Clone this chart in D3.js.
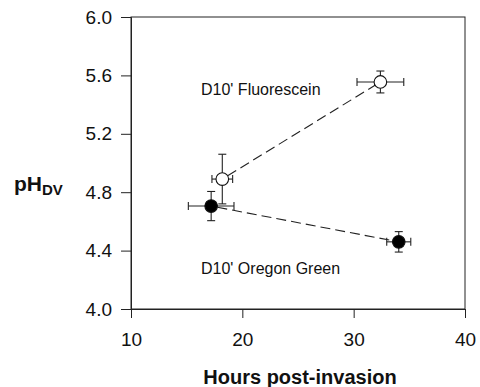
<html>
  <style type="text/css">
    body { margin: 0; background: #fff; }
    text { font-family: "Liberation Sans", Arial, sans-serif; }
  </style>
  <body>
    <script src="https://cdn.jsdelivr.net/npm/d3@7"></script>
    <script type="text/javascript">
      // values
      const xTicks = [10, 20, 30, 40];
      const yTicks = [4.0, 4.4, 4.8, 5.2, 5.6, 6.0];

      const fluoHours = [18.2, 32.4];
      const fluoPH = [4.89, 5.555];
      const fluoXErr = [0.93, 2.1];
      const fluoYErr = [0.17, 0.075];

      const ogHours = [17.2, 34.05];
      const ogPH = [4.705, 4.46];
      const ogXErr = [2.05, 1.08];
      const ogYErr = [0.1, 0.07];

      const labels = { fluo: "D10' Fluorescein", og: "D10' Oregon Green" };

      const W = 480, H = 387;
      const svg = d3.select("body").append("svg").attr("width", W).attr("height", H);

      const x = d3.scaleLinear().domain([10, 40]).range([131, 465]);
      const y = d3.scaleLinear().domain([4, 6]).range([309, 17]);

      // frame
      svg.append("rect")
        .attr("x", x(10)).attr("y", y(6))
        .attr("width", x(40) - x(10)).attr("height", y(4) - y(6))
        .attr("fill", "none").attr("stroke", "#222").attr("stroke-width", 1);

      const xAxis = svg.append("g")
        .attr("transform", `translate(0,${y(4)})`)
        .call(d3.axisBottom(x).tickValues(xTicks).tickSize(9).tickPadding(15).tickFormat(d3.format("d")));
      const yAxis = svg.append("g")
        .attr("transform", `translate(${x(10)},0)`)
        .call(d3.axisLeft(y).tickValues(yTicks).tickSize(10).tickPadding(9).tickFormat(d3.format(".1f")));

      [xAxis, yAxis].forEach(a => {
        a.select(".domain").attr("stroke", "#222");
        a.selectAll(".tick line").attr("stroke", "#222");
        a.selectAll(".tick text")
          .attr("font-family", "'Liberation Sans', Arial, sans-serif")
          .attr("font-size", 19).attr("fill", "#111");
      });

      // axis titles
      svg.append("text")
        .attr("x", 300).attr("y", 384)
        .attr("text-anchor", "middle")
        .attr("font-size", 20).attr("font-weight", "bold").attr("fill", "#111")
        .text("Hours post-invasion");

      const yt = svg.append("text")
        .attr("x", 14).attr("y", 191)
        .attr("font-weight", "bold").attr("fill", "#111");
      yt.append("tspan").attr("font-size", 21).text("pH");
      yt.append("tspan").attr("font-size", 15).attr("dy", 4).text("DV");

      function series(hours, ph, xe, ye, filled, label, ly) {
        const pts = hours.map((h, i) => ({ h, p: ph[i], xe: xe[i], ye: ye[i] }));
        const g = svg.append("g");
        const r = 6.3;

        // dashed connector between circle edges
        const a = pts[0], b = pts[1];
        const x1 = x(a.h), y1 = y(a.p), x2 = x(b.h), y2 = y(b.p);
        const len = Math.hypot(x2 - x1, y2 - y1);
        const ux = (x2 - x1) / len, uy = (y2 - y1) / len;
        g.append("line")
          .attr("x1", x1 + ux * r).attr("y1", y1 + uy * r)
          .attr("x2", x2 - ux * r).attr("y2", y2 - uy * r)
          .attr("stroke", "#222").attr("stroke-width", 1.1)
          .attr("stroke-dasharray", "10,5");

        const cap = 4;
        pts.forEach(d => {
          const cx = x(d.h), cy = y(d.p);
          const eg = g.append("g").attr("stroke", "#222").attr("stroke-width", 1.1);
          eg.append("line").attr("x1", x(d.h - d.xe)).attr("x2", x(d.h + d.xe)).attr("y1", cy).attr("y2", cy);
          eg.append("line").attr("x1", x(d.h - d.xe)).attr("x2", x(d.h - d.xe)).attr("y1", cy - cap).attr("y2", cy + cap);
          eg.append("line").attr("x1", x(d.h + d.xe)).attr("x2", x(d.h + d.xe)).attr("y1", cy - cap).attr("y2", cy + cap);
          eg.append("line").attr("x1", cx).attr("x2", cx).attr("y1", y(d.p + d.ye)).attr("y2", y(d.p - d.ye));
          eg.append("line").attr("x1", cx - cap).attr("x2", cx + cap).attr("y1", y(d.p + d.ye)).attr("y2", y(d.p + d.ye));
          eg.append("line").attr("x1", cx - cap).attr("x2", cx + cap).attr("y1", y(d.p - d.ye)).attr("y2", y(d.p - d.ye));
          g.append("circle")
            .attr("cx", cx).attr("cy", cy).attr("r", r)
            .attr("fill", filled ? "#000" : "#fff")
            .attr("stroke", "#111").attr("stroke-width", 1.1);
        });

        svg.append("text")
          .attr("x", 201).attr("y", ly)
          .attr("font-size", 16).attr("fill", "#111")
          .text(label);
      }

      series(fluoHours, fluoPH, fluoXErr, fluoYErr, false, labels.fluo, 95);
      series(ogHours, ogPH, ogXErr, ogYErr, true, labels.og, 274);
    </script>
  </body>
</html>
